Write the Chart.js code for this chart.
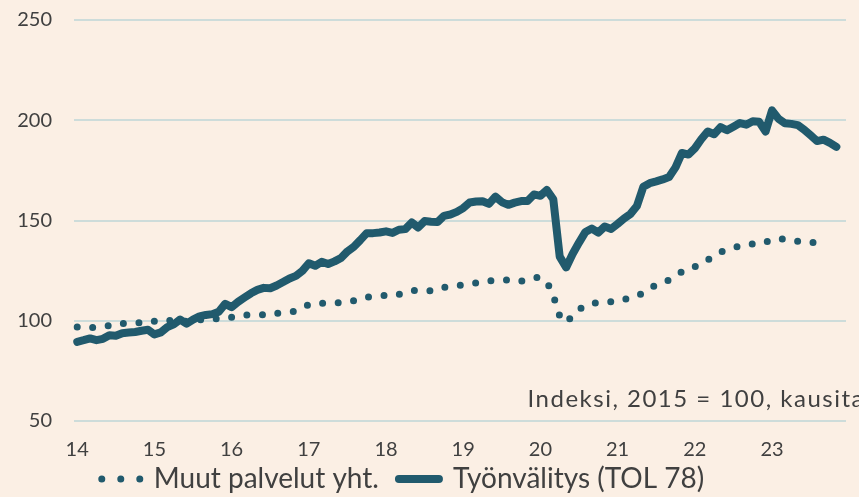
<!DOCTYPE html>
<html lang="fi">
<head>
<meta charset="utf-8">
<script src="https://cdn.jsdelivr.net/npm/chart.js@4.4.1/dist/chart.umd.min.js"></script>
<style>
  html, body { margin: 0; padding: 0; background: #fbefe4; }
  #wrap { width: 859px; height: 497px; }
</style>
</head>
<body>
<div id="wrap"><canvas id="chart"></canvas></div>
<script>
// vuodet ja akselin tikit
const years = ['2014', '2015', '2016', '2017', '2018', '2019', '2020', '2021', '2022', '2023'];
const yearTicks = ['14', '15', '16', '17', '18', '19', '20', '21', '22', '23'];
const yTicks = [50, 100, 150, 200, 250];

// kuukausiarvot, tammi 2014 - marras 2023
const muutPalvelut = [
  96.9, 96.8, 96.6, 96.8, 97.2, 97.6, 98.1, 98.6, 98.8, 98.9, 99.1, 99.5,
  99.8, 100.0, 100.1, 100.1, 99.9, 99.7, 100.1, 100.5, 100.7, 100.9, 101.1, 101.4,
  101.7, 102.1, 102.7, 103.0, 103.0, 103.0, 103.3, 103.7, 104.0, 104.4, 104.9, 106.5,
  108.0, 108.4, 108.7, 108.8, 108.9, 109.0, 109.5, 110.0, 110.8, 111.6, 112.2, 112.4,
  112.6, 112.9, 113.2, 113.7, 114.8, 115.4, 115.2, 115.0, 115.7, 116.6, 117.2, 117.5,
  117.9, 118.4, 118.9, 119.3, 119.8, 120.1, 120.2, 120.3, 120.0, 119.8, 120.2, 121.3,
  121.5, 119.0, 112.5, 102.5, 99.2, 103.0, 105.5, 107.5, 108.8, 108.8, 108.9, 109.5,
  110.0, 110.7, 111.4, 112.1, 114.3, 116.5, 117.5, 118.5, 120.5, 123.0, 124.3, 125.6,
  127.0, 128.3, 130.3, 132.8, 134.3, 135.3, 136.4, 137.3, 138.1, 138.3, 138.5, 139.2,
  140.7, 141.0, 140.5, 140.0, 139.6, 139.2, 139.1, 138.9, 138.7, null, null
];

const tyonvalitys = [
  89.5, 90.3, 91.2, 90.3, 91.0, 92.8, 92.5, 93.8, 94.1, 94.4, 95.0, 95.5,
  93.2, 94.2, 96.8, 98.2, 100.6, 98.5, 100.6, 102.2, 102.9, 103.3, 104.5, 108.4,
  106.8, 109.4, 111.6, 113.7, 115.4, 116.4, 116.2, 117.6, 119.3, 121.1, 122.4, 124.9,
  128.7, 127.4, 129.4, 128.3, 129.6, 131.3, 134.6, 136.9, 140.2, 143.7, 143.7, 144.0,
  144.6, 143.8, 145.4, 145.7, 149.0, 146.5, 149.7, 149.4, 149.2, 152.3, 153.0, 154.3,
  156.2, 159.0, 159.5, 159.6, 158.3, 161.9, 159.2, 157.8, 158.9, 159.7, 159.7, 163.0,
  162.3, 165.2, 160.6, 132.0, 126.6, 133.3, 139.0, 144.3, 146.0, 144.0, 147.0, 145.8,
  148.3, 151.0, 153.3, 157.2, 166.8, 168.6, 169.5, 170.5, 171.7, 176.5, 183.7, 182.9,
  186.0, 190.5, 194.4, 193.0, 196.6, 195.0, 196.8, 198.6, 197.8, 199.5, 199.2, 194.4,
  204.9, 200.8, 198.5, 198.2, 197.6, 195.3, 192.5, 189.6, 190.3, 188.7, 186.7
];

const noteText = 'Indeksi, 2015 = 100, kausitasoitettu';

// kuukausikategoriat
const months = [];
years.forEach(y => {
  for (let m = 1; m <= 12; m++) months.push(y + '-' + String(m).padStart(2, '0'));
});

const lineColor = '#215a6d';
const textColor = '#404040';
const gridColor = '#cddcda';
Chart.defaults.font.family = 'Lato, "Open Sans", sans-serif';

// teksti kuvaajan sisällä
const notePlugin = {
  id: 'note',
  afterDatasetsDraw(chart) {
    const { ctx, scales } = chart;
    ctx.save();
    ctx.font = '24px Lato';
    ctx.letterSpacing = '1.5px';
    ctx.fillStyle = textColor;
    ctx.textAlign = 'left';
    ctx.textBaseline = 'middle';
    ctx.fillText(noteText, scales.x.getPixelForValue(70), scales.y.getPixelForValue(61));
    ctx.restore();
  }
};

// selite hieman vasemmalle
const legendShift = {
  id: 'legendShift',
  afterLayout(chart) {
    chart.legend.left -= 27;
    chart.legend.right -= 27;
  }
};

new Chart(document.getElementById('chart'), {
  type: 'line',
  data: {
    labels: months,
    datasets: [{
      label: 'Muut palvelut yht.',
      data: muutPalvelut,
      borderColor: lineColor,
      backgroundColor: 'transparent',
      borderWidth: 7,
      borderDash: [0, 15.5],
      borderCapStyle: 'round',
      pointRadius: 0,
      tension: 0.3
    }, {
      label: 'Työnvälitys (TOL 78)',
      data: tyonvalitys,
      borderColor: lineColor,
      backgroundColor: 'transparent',
      borderWidth: 8,
      borderCapStyle: 'round',
      borderJoinStyle: 'round',
      pointRadius: 0
    }]
  },
  options: {
    responsive: true,
    maintainAspectRatio: false,
    animation: false,
    layout: { padding: { top: 20, right: 13, left: 0, bottom: -6 } },
    plugins: {
      tooltip: { enabled: false },
      legend: {
        position: 'bottom',
        labels: {
          color: textColor,
          font: { size: 28 },
          boxWidth: 52,
          boxHeight: 0,
          padding: 8,
          generateLabels(chart) {
            const items = Chart.defaults.plugins.legend.labels.generateLabels(chart);
            items.forEach(it => {
              it.fillStyle = 'transparent';
              if (it.datasetIndex === 0) {
                it.lineDash = [0, 19];
                it.lineDashOffset = 5;
              } else {
                it.lineDash = [80, 24];
                it.lineDashOffset = 92;
              }
            });
            return items;
          }
        }
      }
    },
    scales: {
      x: {
        offset: true,
        afterFit(s) { s.height = 36; },
        grid: { display: false, drawTicks: false },
        border: { display: false },
        ticks: {
          autoSkip: false,
          maxRotation: 0,
          padding: 17,
          color: textColor,
          font: { size: 20 },
          callback: (v, i) => (i % 12 === 0 ? yearTicks[i / 12] : null)
        }
      },
      y: {
        min: 50,
        max: 250,
        afterFit(s) { s.width = 74; },
        afterBuildTicks(s) { s.ticks = yTicks.map(v => ({ value: v })); },
        grid: { color: gridColor, lineWidth: 2, tickLength: 22, tickColor: 'transparent' },
        border: { display: false },
        ticks: { padding: 0, color: textColor, font: { size: 20 } }
      }
    }
  },
  plugins: [notePlugin, legendShift]
});
</script>
</body>
</html>
